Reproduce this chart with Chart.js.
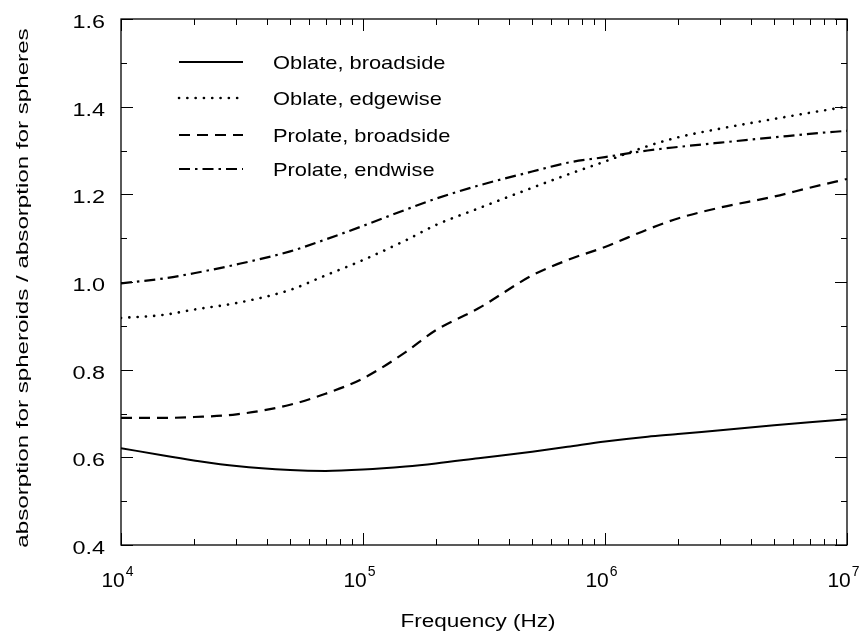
<!DOCTYPE html>
<html>
<head>
<meta charset="utf-8">
<script src="https://cdn.jsdelivr.net/npm/chart.js@4.4.0/dist/chart.umd.min.js"></script>
<style>
html,body{margin:0;padding:0;background:#fff;}
#wrap{width:865px;height:641px;}
</style>
</head>
<body>
<div id="wrap"><canvas id="c" width="865" height="641"></canvas></div>
<script>
const frequencies = [1e4, 1.5e4, 2e4, 3e4, 5e4, 7e4, 1e5, 1.5e5, 2e5, 3e5, 5e5, 7e5, 1e6, 1.5e6, 2e6, 3e6, 5e6, 7e6, 1e7];
const oblateBroadside = [0.621, 0.604, 0.593, 0.580, 0.571, 0.569, 0.572, 0.579, 0.586, 0.598, 0.613, 0.624, 0.636, 0.647, 0.653, 0.662, 0.673, 0.680, 0.687];
const oblateEdgewise  = [0.918, 0.925, 0.937, 0.952, 0.982, 1.015, 1.050, 1.095, 1.130, 1.168, 1.215, 1.245, 1.275, 1.310, 1.330, 1.350, 1.372, 1.386, 1.400];
const prolateBroadside = [0.690, 0.690, 0.692, 0.698, 0.720, 0.745, 0.780, 0.840, 0.890, 0.940, 1.015, 1.050, 1.080, 1.120, 1.145, 1.170, 1.195, 1.215, 1.235];
const prolateEndwise  = [0.997, 1.008, 1.020, 1.040, 1.070, 1.097, 1.128, 1.165, 1.190, 1.220, 1.252, 1.272, 1.285, 1.300, 1.308, 1.318, 1.330, 1.338, 1.345];
const seriesNames = ['Oblate, broadside', 'Oblate, edgewise', 'Prolate, broadside', 'Prolate, endwise'];
const xTickValues = [1e4, 1e5, 1e6, 1e7];
const xTickBase = '10';
const xTickExponents = ['4', '5', '6', '7'];
const yTickValues = [0.4, 0.6, 0.8, 1.0, 1.2, 1.4, 1.6];
const xTitle = 'Frequency (Hz)';
const yTitle = 'absorption for spheroids / absorption for spheres';

const FONT = '"Liberation Sans", Arial, Helvetica, sans-serif';
const toPts = arr => frequencies.map((f, i) => ({x: f, y: arr[i]}));

const styles = [
  {borderDash: [], borderWidth: 2, borderCapStyle: 'butt'},
  {borderDash: [0.1, 8.2], borderWidth: 2.6, borderCapStyle: 'round'},
  {borderDash: [11, 7], borderWidth: 2.2, borderCapStyle: 'butt'},
  {borderDash: [11, 5, 2.5, 5], borderWidth: 2.2, borderCapStyle: 'butt'}
];
const seriesData = [oblateBroadside, oblateEdgewise, prolateBroadside, prolateEndwise];

const datasets = seriesData.map((d, i) => Object.assign({
  label: seriesNames[i],
  data: toPts(d),
  borderColor: '#000',
  backgroundColor: '#000',
  pointRadius: 0,
  fill: false,
  cubicInterpolationMode: 'monotone'
}, styles[i]));

function stretchText(ctx, text, x, y, size, sx, align, rotate) {
  ctx.save();
  ctx.font = size + 'px ' + FONT;
  ctx.textBaseline = 'alphabetic';
  ctx.textAlign = 'left';
  const w = ctx.measureText(text).width * sx;
  ctx.translate(x, y);
  if (rotate) ctx.rotate(-Math.PI / 2);
  let off = 0;
  if (align === 'center') off = -w / 2;
  else if (align === 'right') off = -w;
  ctx.translate(off, 0);
  ctx.scale(sx, 1);
  ctx.fillText(text, 0, 0);
  ctx.restore();
}

const framePlugin = {
  id: 'frame',
  afterDatasetsDraw(chart) {
    const {ctx, chartArea: a, scales: {x, y}} = chart;
    ctx.save();
    ctx.strokeStyle = '#000';
    ctx.lineWidth = 1.3;
    ctx.strokeRect(a.left, a.top, a.right - a.left, a.bottom - a.top);
    ctx.lineWidth = 1;
    ctx.beginPath();
    for (let k = 4; k <= 16; k++) {
      const v = k / 10;
      const py = Math.round(y.getPixelForValue(v)) + 0.5;
      const len = (k % 2 === 0) ? 12 : 6;
      ctx.moveTo(a.left, py); ctx.lineTo(a.left + len, py);
      ctx.moveTo(a.right, py); ctx.lineTo(a.right - len, py);
    }
    for (let e = 4; e <= 7; e++) {
      for (let m = 1; m <= 9; m++) {
        if (e === 7 && m > 1) break;
        const v = m * Math.pow(10, e);
        const px = Math.round(x.getPixelForValue(v)) + 0.5;
        const len = (m === 1) ? 12 : 6;
        ctx.moveTo(px, a.bottom); ctx.lineTo(px, a.bottom - len);
        ctx.moveTo(px, a.top); ctx.lineTo(px, a.top + len);
      }
    }
    ctx.stroke();

    ctx.fillStyle = '#000';
    yTickValues.forEach(v => {
      const py = y.getPixelForValue(v);
      stretchText(ctx, v.toFixed(1), a.left - 16, py + 9, 18, 1.3, 'right', false);
    });
    xTickValues.forEach((v, i) => {
      const px = x.getPixelForValue(v);
      ctx.font = '21px ' + FONT;
      const wb = ctx.measureText(xTickBase).width;
      ctx.font = '14px ' + FONT;
      const we = ctx.measureText(xTickExponents[i]).width;
      const start = px - 4 - (wb + we) / 2;
      stretchText(ctx, xTickBase, start, a.bottom + 42, 21, 1, 'left', false);
      stretchText(ctx, xTickExponents[i], start + wb + 1, a.bottom + 31, 14, 1, 'left', false);
    });
    stretchText(ctx, xTitle, (a.left + a.right) / 2 - 6, 627, 18, 1.25, 'center', false);
    stretchText(ctx, yTitle, 28, (a.top + a.bottom) / 2 + 6, 17, 1.42, 'center', true);

    const rows = [62, 98, 135, 169];
    chart.data.datasets.forEach((ds, i) => {
      const ly = rows[i];
      ctx.save();
      ctx.strokeStyle = ds.borderColor;
      ctx.lineWidth = ds.borderWidth;
      ctx.lineCap = ds.borderCapStyle;
      ctx.setLineDash(ds.borderDash);
      ctx.beginPath();
      ctx.moveTo(179, ly);
      ctx.lineTo(243, ly);
      ctx.stroke();
      ctx.restore();
      stretchText(ctx, ds.label, 273, ly + 7, 19, 1.15, 'left', false);
    });
    ctx.restore();
  }
};

new Chart(document.getElementById('c'), {
  type: 'line',
  data: {datasets},
  plugins: [framePlugin],
  options: {
    responsive: false,
    animation: false,
    devicePixelRatio: 1,
    layout: {padding: {left: 0, right: 18, top: 19, bottom: 0}},
    plugins: {legend: {display: false}, tooltip: {enabled: false}},
    scales: {
      x: {
        type: 'logarithmic',
        min: 1e4, max: 1e7,
        afterFit: s => { s.height = 96; },
        afterBuildTicks: s => { s.ticks = xTickValues.map(v => ({value: v})); },
        grid: {display: false, drawTicks: false},
        border: {display: false},
        ticks: {display: false},
        title: {display: false, text: xTitle}
      },
      y: {
        type: 'linear',
        min: 0.4, max: 1.6,
        afterFit: s => { s.width = 121; },
        afterBuildTicks: s => { s.ticks = yTickValues.map(v => ({value: v})); },
        grid: {display: false, drawTicks: false},
        border: {display: false},
        ticks: {display: false},
        title: {display: false, text: yTitle}
      }
    }
  }
});
</script>
</body>
</html>
